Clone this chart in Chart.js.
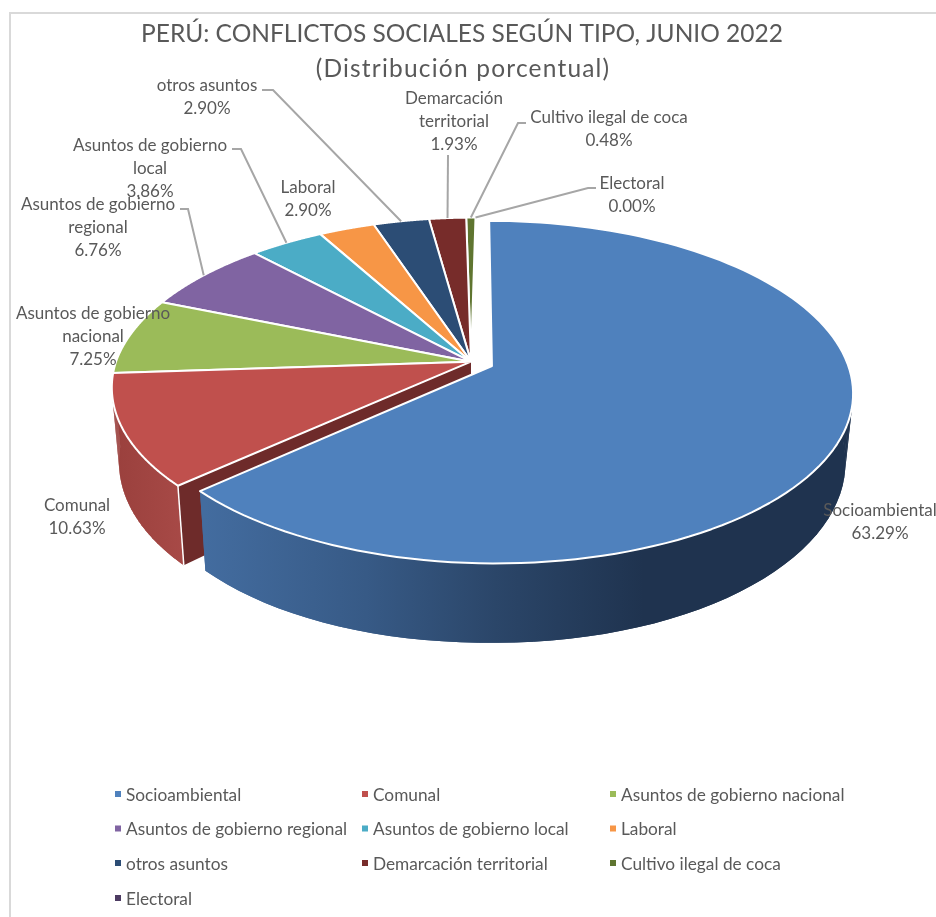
<!DOCTYPE html>
<html>
<head>
<meta charset="utf-8">
<title>Conflictos sociales</title>
<script src="https://cdn.jsdelivr.net/npm/chart.js@4"></script>
<style>
html, body { margin: 0; padding: 0; background: #fff; overflow: hidden; }
#wrap { position: relative; width: 936px; height: 917px; overflow: hidden; }
#frame { position: absolute; left: 9px; top: 12px; width: 1000px; height: 1000px; border: 2px solid #d9d9d9; }
canvas { position: absolute; left: 0; top: 0; }
</style>
</head>
<body>
<div id="wrap">
  <div id="frame"></div>
  <canvas id="mycanvas" width="936" height="917"></canvas>
</div>
<script>
var categories = ["Socioambiental", "Comunal", "Asuntos de gobierno nacional", "Asuntos de gobierno regional",
  "Asuntos de gobierno local", "Laboral", "otros asuntos", "Demarcación territorial", "Cultivo ilegal de coca", "Electoral"];
var values = [63.29, 10.63, 7.25, 6.76, 3.86, 2.90, 2.90, 1.93, 0.48, 0.00];
var sliceColors = ["#4f81bd", "#c0504d", "#9bbb59", "#8064a2", "#4bacc6", "#f79646", "#2c4d75", "#772c2a", "#5f7530", "#4d3b62"];
var titleText = "PERÚ: CONFLICTOS SOCIALES SEGÚN TIPO, JUNIO 2022";
var subtitleText = "(Distribución porcentual)";

// wrapped names for the data labels
var labelNames = [["Socioambiental"], ["Comunal"], ["Asuntos de gobierno", "nacional"], ["Asuntos de gobierno", "regional"],
  ["Asuntos de gobierno", "local"], ["Laboral"], ["otros asuntos"], ["Demarcación", "territorial"], ["Cultivo ilegal de coca"], ["Electoral"]];

// label placement: centre x, first line y
var labelPlaces = [[880, 511], [77, 506], [93, 314], [98, 205], [150, 146], [308, 188], [207, 86], [454, 99], [609, 118], [632, 184]];
// leader lines: [start, bend], the far end comes from the slice itself
var leaders = {
  3: [[180, 209], [188, 209]],
  4: [[232, 149], [241, 149]],
  6: [[262, 90], [273, 90]],
  7: [[448, 155], [448, 155]],
  8: [[526, 123], [518, 123]],
  9: [[596, 188], [588, 188]]
};

var legendCols = [115, 362, 610];
var legendRows = [795, 829.5, 864, 899];

var textColor = "#595959";
var textFont = "17px Lato";
var legendFont = "17.25px Lato";

// perspective of the tilted disc
var view = { dx: 9, dy: 0.5, sx: 355, sy: 166, p: 0.152, lean: 4.5, depth: 67, leftDepth: 6, shrink: 0.98 };

function discPoint(el, angle, r) {
  var mid = (el.startAngle + el.endAngle) / 2;
  var off = (el.options.offset || 0) / 4 / el.outerRadius;
  var u = r * Math.cos(angle) + off * Math.cos(mid);
  var v = r * Math.sin(angle) + off * Math.sin(mid);
  var w = 1 / (1 - view.p * v);
  var x = el.x + view.dx + view.sx * u * w;
  // back rim of the group sits a bit to the right
  if (!off && v < 0) x -= view.lean * v;
  return { x: x, y: el.y + view.dy + view.sy * v * w, w: w };
}

function dropPoint(el, pt) {
  var cx = el.x + view.dx;
  // the wall gets a little deeper towards the left
  var extra = view.leftDepth * Math.max(0, cx - pt.x) / view.sx;
  return { x: cx + (pt.x - cx) * view.shrink, y: pt.y + view.depth * pt.w + extra };
}

function sideGradient(ctx, x0, x1, stops) {
  var g = ctx.createLinearGradient(x0, 0, x1, 0);
  stops.forEach(function (s) { g.addColorStop(s[0], s[1]); });
  return g;
}

function drawWall(ctx, el, fill) {
  var steps = 90;
  var span = el.endAngle - el.startAngle;
  var rim = [];
  for (var i = 0; i <= steps; i++) {
    var a = el.startAngle + span * i / steps;
    if (Math.sin(a) > -0.2) rim.push(discPoint(el, a, 1)); // back part is never seen
  }
  ctx.fillStyle = fill;
  // quads give the right silhouette at the tangent points
  for (var j = 0; j < rim.length - 1; j++) {
    var c = dropPoint(el, rim[j + 1]);
    var d = dropPoint(el, rim[j]);
    ctx.beginPath();
    ctx.moveTo(rim[j].x, rim[j].y);
    ctx.lineTo(rim[j + 1].x, rim[j + 1].y);
    ctx.lineTo(c.x, c.y);
    ctx.lineTo(d.x, d.y);
    ctx.closePath();
    ctx.fill();
  }
  // one polygon on top hides the seams between them
  ctx.beginPath();
  rim.forEach(function (p, k) {
    if (k === 0) ctx.moveTo(p.x, p.y); else ctx.lineTo(p.x, p.y);
  });
  rim.slice().reverse().forEach(function (p) {
    var q = dropPoint(el, p);
    ctx.lineTo(q.x, q.y);
  });
  ctx.closePath();
  ctx.fill();
}

// flat cut face between tip and rim, at the given angle
function drawCut(ctx, el, angle, fill) {
  var tip = discPoint(el, angle, 0);
  var rim = discPoint(el, angle, 1);
  var rimLow = dropPoint(el, rim);
  var tipLow = dropPoint(el, tip);
  ctx.beginPath();
  ctx.moveTo(tip.x, tip.y);
  ctx.lineTo(rim.x, rim.y);
  ctx.lineTo(rimLow.x, rimLow.y);
  ctx.lineTo(tipLow.x, tipLow.y);
  ctx.closePath();
  ctx.fillStyle = fill;
  ctx.fill();
  ctx.strokeStyle = "#fff";
  ctx.lineWidth = 1.5;
  ctx.beginPath();
  ctx.moveTo(rim.x, rim.y);
  ctx.lineTo(rimLow.x, rimLow.y);
  ctx.stroke();
}

function drawTop(ctx, el, color) {
  var steps = 120;
  var span = el.endAngle - el.startAngle;
  var tip = discPoint(el, el.startAngle, 0);
  ctx.beginPath();
  ctx.moveTo(tip.x, tip.y);
  for (var i = 0; i <= steps; i++) {
    var p = discPoint(el, el.startAngle + span * i / steps, 1);
    ctx.lineTo(p.x, p.y);
  }
  ctx.closePath();
  ctx.fillStyle = color;
  ctx.fill();
  ctx.strokeStyle = "#fff";
  ctx.lineWidth = 2;
  ctx.lineJoin = "round";
  ctx.stroke();
}

var pie3d = {
  id: "pie3d",
  // the arcs are laid out by the doughnut controller, only the drawing is replaced
  beforeDatasetDraw: function (chart, args) {
    var ctx = chart.ctx;
    var arcs = args.meta.data;
    ctx.save();
    for (var i = arcs.length - 1; i >= 1; i--) {
      if (values[i] <= 0) continue;
      if (i === 1) {
        drawWall(ctx, arcs[i], sideGradient(ctx, 115, 185, [[0, "#9a403d"], [1, "#a84a47"]]));
        drawCut(ctx, arcs[i], arcs[i].startAngle, "#6e2b2a");
      }
      drawTop(ctx, arcs[i], sliceColors[i]);
    }
    drawWall(ctx, arcs[0], sideGradient(ctx, 205, 850, [[0, "#436c9f"], [0.25, "#375a86"], [0.45, "#2b4669"], [0.68, "#1f334f"], [1, "#1f334f"]]));
    drawTop(ctx, arcs[0], sliceColors[0]);
    ctx.restore();
    return false;
  },
  afterDraw: function (chart) {
    var ctx = chart.ctx;
    var arcs = chart.getDatasetMeta(0).data;
    ctx.save();

    // second title line is letter spaced in the original
    ctx.font = "24.5px Lato";
    ctx.fillStyle = textColor;
    ctx.textAlign = "center";
    ctx.textBaseline = "middle";
    ctx.letterSpacing = "1.2px";
    ctx.fillText(subtitleText, 463, 69);
    ctx.letterSpacing = "0px";

    // leader lines
    ctx.strokeStyle = "#a6a6a6";
    ctx.lineWidth = 2;
    Object.keys(leaders).forEach(function (k) {
      var el = arcs[k];
      var end = discPoint(el, (el.startAngle + el.endAngle) / 2, 1);
      ctx.beginPath();
      ctx.moveTo(leaders[k][0][0], leaders[k][0][1]);
      ctx.lineTo(leaders[k][1][0], leaders[k][1][1]);
      ctx.lineTo(end.x, end.y);
      ctx.stroke();
    });

    // data labels
    ctx.font = textFont;
    ctx.fillStyle = textColor;
    labelNames.forEach(function (lines, i) {
      var all = lines.concat([values[i].toFixed(2) + "%"]);
      all.forEach(function (line, j) {
        ctx.fillText(line, labelPlaces[i][0], labelPlaces[i][1] + j * 22.7);
      });
    });

    // legend, three fixed columns
    ctx.font = legendFont;
    ctx.textAlign = "left";
    categories.forEach(function (name, i) {
      var x = legendCols[i % 3];
      var y = legendRows[Math.floor(i / 3)];
      ctx.fillStyle = sliceColors[i];
      ctx.fillRect(x, y - 4, 6, 6);
      ctx.fillStyle = textColor;
      ctx.fillText(name, x + 11, y);
    });
    ctx.restore();
  }
};

var ctx = document.getElementById("mycanvas");
var chart = new Chart(ctx, {
  type: "pie",
  data: {
    labels: categories,
    datasets: [{
      data: values,
      backgroundColor: sliceColors,
      offset: [72, 0, 0, 0, 0, 0, 0, 0, 0, 0]
    }]
  },
  options: {
    responsive: false,
    devicePixelRatio: 1,
    animation: false,
    radius: 280,
    layout: { padding: { right: 12, bottom: 290 } },
    plugins: {
      legend: { display: false },
      tooltip: { enabled: false },
      title: {
        display: true,
        text: titleText,
        color: textColor,
        font: { family: "Lato", size: 24.5, weight: "normal", lineHeight: 1.4 },
        padding: { top: 17, bottom: 44 }
      }
    }
  },
  plugins: [pie3d]
});
</script>
</body>
</html>
